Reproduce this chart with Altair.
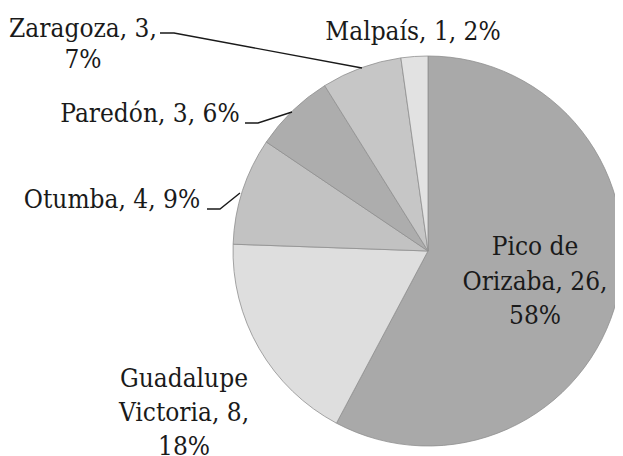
import altair as alt
import pandas as pd

# ---- data ----
categories = ["Pico de Orizaba", "Guadalupe Victoria", "Otumba", "Paredón", "Zaragoza", "Malpaís"]
values = [26, 8, 4, 3, 3, 1]
percents = ["58%", "18%", "9%", "6%", "7%", "2%"]

# ---- styles ----
slice_colors = ["#a9a9a9", "#dedede", "#c2c2c2", "#adadad", "#c6c6c6", "#e2e2e2"]
FONT = "DejaVu Serif Condensed, DejaVu Serif"

# ---- layout (chart pixel coordinates) ----
CX, CY, R = 420, 243, 195
W, H = 607, 448
label_lines = [
    # (category, text, x, y-baseline)
    ("Pico de Orizaba", "Pico de", 527, 247),
    ("Pico de Orizaba", "Orizaba, 26,", 527, 282),
    ("Pico de Orizaba", "58%", 527, 316),
    ("Guadalupe Victoria", "Guadalupe", 176, 379),
    ("Guadalupe Victoria", "Victoria, 8,", 176, 413),
    ("Guadalupe Victoria", "18%", 176, 447),
    ("Otumba", "Otumba, 4, 9%", 104, 200),
    ("Paredón", "Paredón, 3, 6%", 142, 114),
    ("Zaragoza", "Zaragoza, 3,", 75, 29),
    ("Zaragoza", "7%", 75, 60),
    ("Malpaís", "Malpaís, 1, 2%", 405, 32),
]
leaders = {
    "Zaragoza": [(152, 25), (166, 25), (354, 60)],
    "Paredón": [(237, 115), (250, 115), (284, 104)],
    "Otumba": [(199, 201), (212, 201), (232, 185)],
}

df = pd.DataFrame({
    "category": categories,
    "value": values,
    "pct": percents,
    "idx": list(range(len(categories))),
})

arcs = alt.Chart(df).mark_arc(
    radius=R, stroke="#8f8f8f", strokeWidth=0.8
).encode(
    theta=alt.Theta("value:Q", stack=True),
    color=alt.Color("category:N", scale=alt.Scale(domain=categories, range=slice_colors), legend=None),
    order=alt.Order("idx:Q"),
    x=alt.value(CX),
    y=alt.value(CY),
)

lab_df = pd.DataFrame(label_lines, columns=["category", "text", "x", "y"])
labels = alt.Chart(lab_df).mark_text(
    font=FONT, fontSize=26, color="#1a1a1a", align="center", baseline="alphabetic"
).encode(
    x=alt.X("x:Q", scale=None),
    y=alt.Y("y:Q", scale=None),
    text="text:N",
)

lead_rows = []
for k, pts in leaders.items():
    for i, (px, py) in enumerate(pts):
        lead_rows.append({"name": k, "i": i, "x": px, "y": py})
lead_df = pd.DataFrame(lead_rows)
lines = alt.Chart(lead_df).mark_line(color="#1a1a1a", strokeWidth=1.4).encode(
    x=alt.X("x:Q", scale=None),
    y=alt.Y("y:Q", scale=None),
    detail="name:N",
    order="i:Q",
)

chart = alt.layer(arcs, lines, labels).properties(
    width=W, height=H, padding=0, autosize=alt.AutoSizeParams(type="none"), background="white"
).configure_view(stroke=None)

chart.save("out.html", embed_options={"renderer": "svg", "actions": False})
